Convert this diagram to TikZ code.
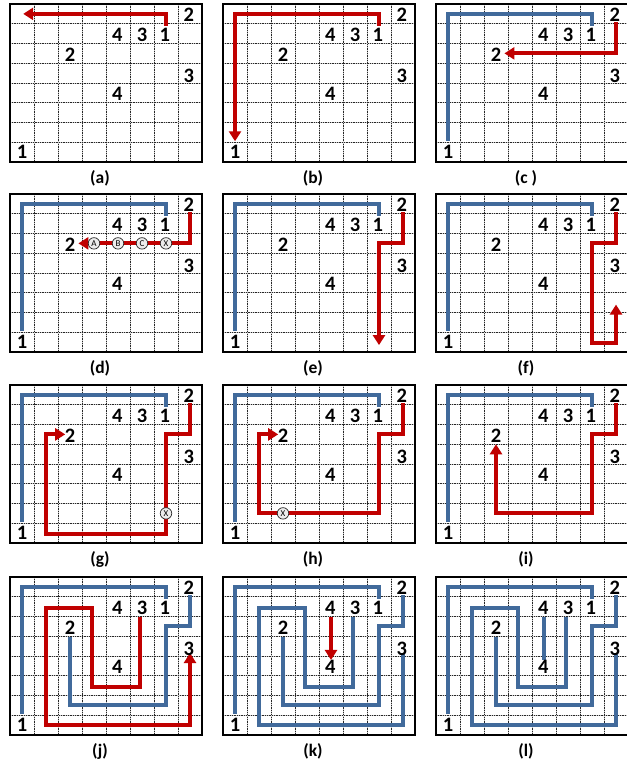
\documentclass[tikz,border=0pt]{standalone}
\usepackage{fontspec}
\setmainfont{Carlito}
\usetikzlibrary{arrows.meta}

\definecolor{pathblue}{RGB}{65,106,155}
\definecolor{pathred}{RGB}{192,0,0}

\tikzset{
  cell/.style={x=24pt,y=-19.75pt},
  gridsoft/.style={gray!40,line width=0.9pt},
  gridfine/.style={black!85,densely dotted,line width=0.75pt},
  frame/.style={draw=black,line width=2pt},
  num/.style={font=\bfseries\fontsize{20.5}{20.5}\selectfont,inner sep=0pt},
  caption/.style={font=\bfseries\fontsize{17.5}{17.5}\selectfont,inner sep=0pt},
  bluepath/.style={draw=pathblue,line width=4pt},
  redpath/.style={draw=pathred,line width=4pt},
  redarrow/.style={redpath,-{Triangle[length=10pt,width=12pt]}},
  waypt/.style={circle,draw=black!85,fill=gray!15,line width=0.7pt,minimum size=11.5pt,inner sep=0pt,font=\fontsize{9}{9}\selectfont}
}

% the four lines of the puzzle, in cell units
\newcommand{\lineone}[1]{\draw[#1] (6.5,1.1) -- (6.5,0.5) -- (0.5,0.5) -- (0.5,6.95);}
\newcommand{\linetwo}[1]{\draw[#1] (7.5,0.9) -- (7.5,2.5) -- (6.5,2.5) -- (6.5,6.5) -- (2.5,6.5) -- (2.5,3.05);}
\newcommand{\linethree}[1]{\draw[#1] (5.4,2.0) -- (5.4,5.55) -- (3.4,5.55) -- (3.4,1.55) -- (1.5,1.55) -- (1.5,7.5) -- (7.5,7.5) -- (7.5,3.85);}
\newcommand{\linefour}[1]{\draw[#1] (4.5,2.0) -- (4.5,4.2);}

% one board: #1 id, #2 left, #3 top, #4 caption, #5 paths
\newcommand{\board}[5]{%
  \begin{scope}[shift={(#2pt,-#3pt)},cell]
    \fill[white] (0,0) rectangle (8,8);
    \foreach \k in {1,...,7}{
      \draw[gridsoft] (\k,0) -- (\k,8);
      \draw[gridsoft] (0,\k) -- (8,\k);
      \draw[gridfine] (\k,0) -- (\k,8);
      \draw[gridfine] (0,\k) -- (8,\k);
    }
    #5
    \node[num] (#1-twoA) at (7.45,0.55) {2};
    \node[num] (#1-fourA) at (4.47,1.57) {4};
    \node[num] (#1-threeA) at (5.5,1.57) {3};
    \node[num] (#1-oneA) at (6.45,1.57) {1};
    \node[num] (#1-twoB) at (2.5,2.55) {2};
    \node[num] (#1-threeB) at (7.45,3.65) {3};
    \node[num] (#1-fourB) at (4.47,4.55) {4};
    \node[num] (#1-oneB) at (0.5,7.5) {1};
    \draw[frame] (0,0) rectangle (8,8);
    \node[caption] (#1-cap) at (3.75,8.82) {#4};
  \end{scope}}

\begin{document}
\begin{tikzpicture}
  \useasboundingbox (0pt,0pt) rectangle (626pt,-762pt);

  \board{a}{10}{4}{(a)}{\draw[redarrow] (6.5,1.1) -- (6.5,0.5) -- (0.55,0.5);}
  \board{b}{223}{4}{(b)}{\draw[redarrow] (6.5,1.1) -- (6.5,0.5) -- (0.5,0.5) -- (0.5,6.95);}
  \board{c}{436}{4}{(c )}{\lineone{bluepath}
    \draw[redarrow] (7.5,0.9) -- (7.5,2.5) -- (2.85,2.5);}

  \board{d}{10}{194}{(d)}{\lineone{bluepath}
    \draw[redarrow] (7.5,0.9) -- (7.5,2.5) -- (2.85,2.5);
    \node[waypt] (d-A) at (3.5,2.5) {A};
    \node[waypt] (d-B) at (4.5,2.5) {B};
    \node[waypt] (d-C) at (5.5,2.5) {C};
    \node[waypt] (d-X) at (6.5,2.5) {X};}
  \board{e}{223}{194}{(e)}{\lineone{bluepath}
    \draw[redarrow] (7.5,0.9) -- (7.5,2.5) -- (6.5,2.5) -- (6.5,7.65);}
  \board{f}{436}{194}{(f)}{\lineone{bluepath}
    \draw[redarrow] (7.5,0.9) -- (7.5,2.5) -- (6.5,2.5) -- (6.5,7.55) -- (7.5,7.55) -- (7.5,5.6);}

  \board{g}{10}{385}{(g)}{\lineone{bluepath}
    \draw[redarrow] (7.5,0.9) -- (7.5,2.5) -- (6.5,2.5) -- (6.5,7.55) -- (1.5,7.55) -- (1.5,2.5) -- (2.3,2.5);
    \node[waypt] (g-X) at (6.5,6.5) {X};}
  \board{h}{223}{385}{(h)}{\lineone{bluepath}
    \draw[redarrow] (7.5,0.9) -- (7.5,2.5) -- (6.5,2.5) -- (6.5,6.5) -- (1.5,6.5) -- (1.5,2.5) -- (2.3,2.5);
    \node[waypt] (h-X) at (2.5,6.5) {X};}
  \board{i}{436}{385}{(i)}{\lineone{bluepath}
    \draw[redarrow] (7.5,0.9) -- (7.5,2.5) -- (6.5,2.5) -- (6.5,6.5) -- (2.5,6.5) -- (2.5,3.0);}

  \board{j}{10}{577}{(j)}{\lineone{bluepath}\linetwo{bluepath}\linethree{redarrow}}
  \board{k}{223}{577}{(k)}{\lineone{bluepath}\linetwo{bluepath}\linethree{bluepath}\linefour{redarrow}}
  \board{l}{436}{577}{(l)}{\lineone{bluepath}\linetwo{bluepath}\linethree{bluepath}\linefour{bluepath}}
\end{tikzpicture}
\end{document}
